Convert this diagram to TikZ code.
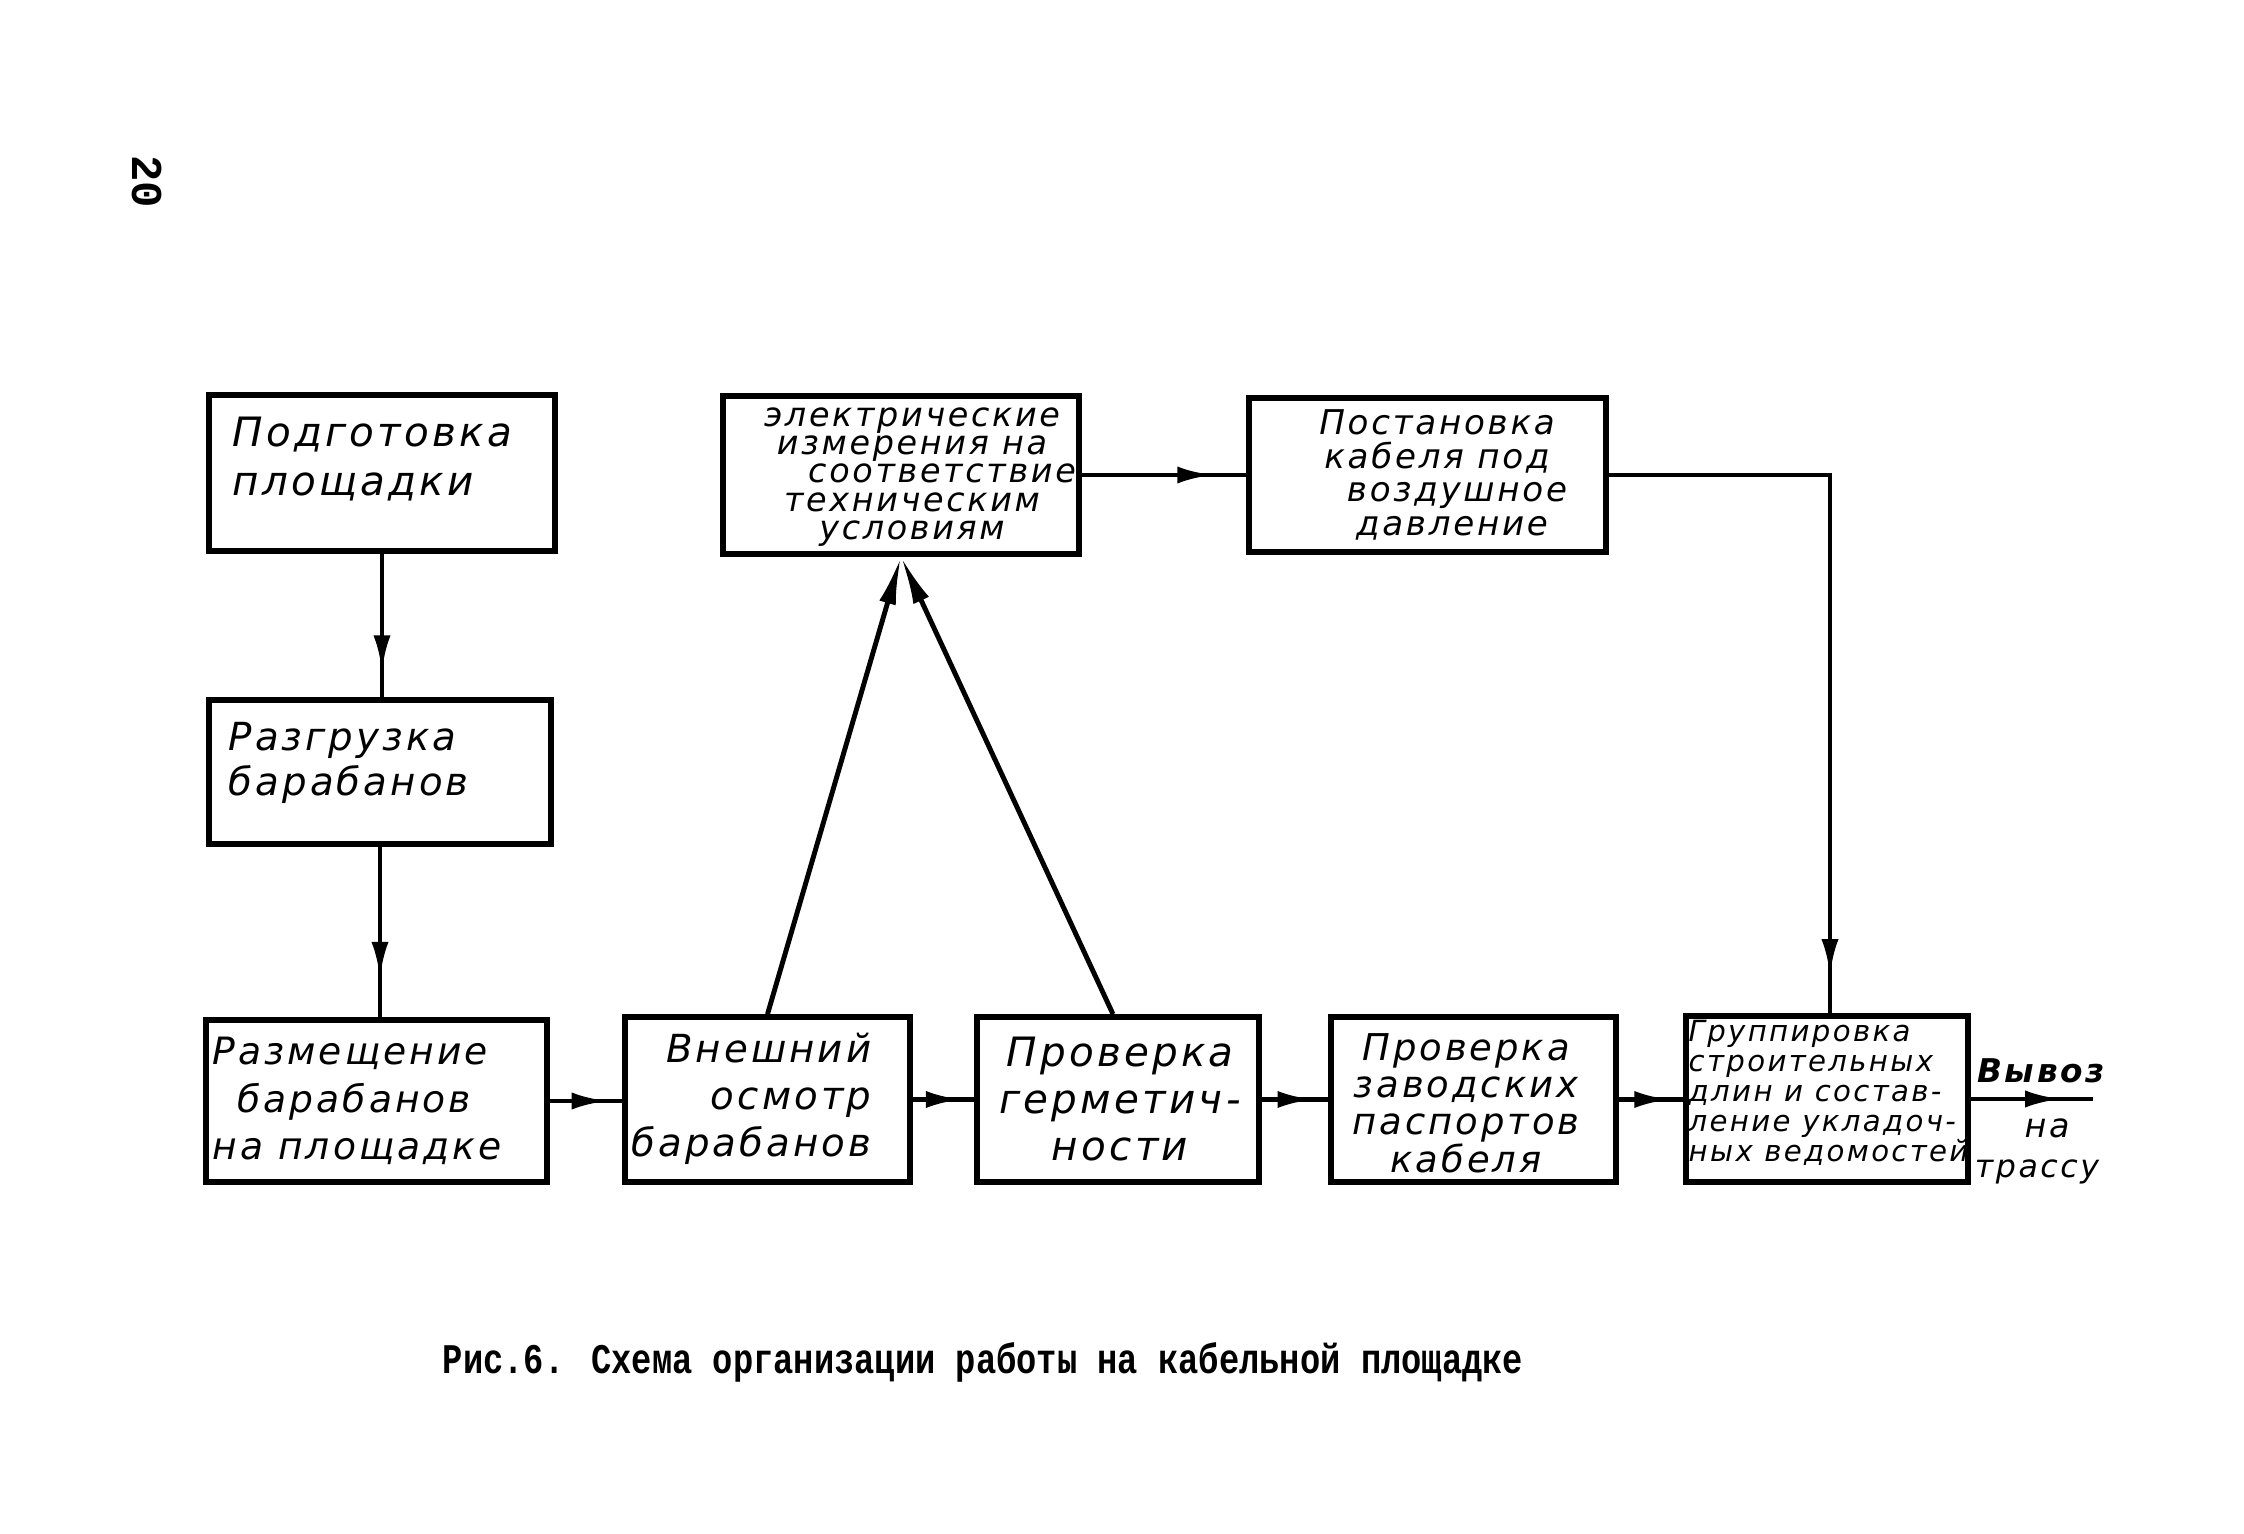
\documentclass[tikz,border=0pt]{standalone}
\usepackage{fontspec}
\setmainfont{DejaVu Sans}
\newfontfamily\hand{DejaVu Sans}[LetterSpace=8]
\newfontfamily\capfont{Liberation Mono}[FakeStretch=0.8]
\newfontfamily\pgnum{Liberation Mono}
\usetikzlibrary{arrows.meta,decorations.markings,fit}
\tikzset{
  box/.style={draw, line width=1.6pt, inner sep=0pt, fit={#1}},
  conn/.style={line width=1.4pt},
  midarrow/.style={postaction={decorate}, decoration={markings,
      mark=at position #1 with {\arrow{Latex[length=0.36cm,width=0.17cm]}}}},
  tiparrow/.style={-{Latex[length=0.48cm,width=0.17cm]}},
  htext/.style={inner sep=0pt},
}
\begin{document}
\begin{tikzpicture}[x=0.01cm,y=-0.01cm]
\fill[white] (0,0) rectangle (2244,1534);
\useasboundingbox (0,0) rectangle (2244,1534);

% boxes
\node[box={(209,395) (555,551)}] (b1) {};
\node[box={(209,700) (551,844)}] (b2) {};
\node[box={(206,1020) (547,1182)}] (b3) {};
\node[box={(625,1017) (910,1182)}] (b4) {};
\node[box={(977,1017) (1259,1182)}] (b5) {};
\node[box={(1331,1017) (1616,1182)}] (b6) {};
\node[box={(1686,1016) (1968,1182)}] (b7) {};
\node[box={(723,396) (1079,554)}] (b8) {};
\node[box={(1249,398) (1606,552)}] (b9) {};

% texts
\node[htext, anchor=west, align=left, font=\hand\itshape\fontsize{11.5}{14}\selectfont] (t1) at (232,459) {Подготовка\\ площадки};
\node[htext, anchor=west, align=left, font=\hand\itshape\fontsize{11}{13}\selectfont] (t2) at (228,763) {Разгрузка\\ барабанов};
\node[htext, anchor=west, align=left, font=\hand\itshape\fontsize{10.7}{13.5}\selectfont] (t3) at (212,1101) {Размещение\\ \hspace{0.25cm}барабанов\\ на площадке};
\node[htext, anchor=east, align=right, font=\hand\itshape\fontsize{11}{13.3}\selectfont] (t4) at (872,1099) {Внешний\\ осмотр\\ барабанов};
\node[htext, align=center, font=\hand\itshape\fontsize{11.5}{13.3}\selectfont] (t5) at (1120,1099) {Проверка\\ герметич-\\ ности};
\node[htext, align=center, font=\hand\itshape\fontsize{10.5}{10.6}\selectfont] (t6) at (1466,1103) {Проверка\\ заводских\\ паспортов\\ кабеля};
\node[htext, anchor=west, align=left, font=\hand\itshape\fontsize{8.3}{8.5}\selectfont] (t7) at (1688,1093) {Группировка\\ строительных\\ длин и состав-\\ ление укладоч-\\ ных ведомостей};
\node[htext, align=center, font=\hand\itshape\fontsize{9.5}{8}\selectfont] (t8) at (912,477) {электрические\\ измерения на\\ \hspace{0.6cm}соответствие\\ техническим\\ условиям};
\node[htext, align=center, font=\hand\itshape\fontsize{9.7}{9.5}\selectfont] (t9) at (1437,475) {Постановка\\ кабеля под\\ \hspace{0.4cm}воздушное\\ \hspace{0.3cm}давление};

% output label
\coordinate (out) at (2093,1099);
\node[htext, font=\hand\itshape\bfseries\fontsize{9.3}{12}\selectfont] (t10) at (2041,1071) {Вывоз};
\node[htext, font=\hand\itshape\fontsize{9.5}{12}\selectfont] (t11) at (2047,1128) {на};
\node[htext, font=\hand\itshape\fontsize{9}{12}\selectfont] (t12) at (2037,1172) {трассу};

% caption and page number
\node[font=\capfont\bfseries\fontsize{12}{14}\selectfont] (cap) at (983,1362) {Рис.6. Схема организации работы на кабельной площадке};
\node[font=\pgnum\bfseries\fontsize{12.5}{12}\selectfont, rotate=-90] (pg) at (147,182) {20};

% connectors
\draw[conn, midarrow=0.82] (b1.south) -- (b1.south |- b2.north);
\draw[conn, midarrow=0.77] (b2.south) -- (b2.south |- b3.north);
\draw[conn, midarrow=0.8] (b3.east) -- (b3.east -| b4.west);
\draw[conn, midarrow=0.8] (b4.east) -- (b4.east -| b5.west);
\draw[conn, midarrow=0.78] (b5.east) -- (b5.east -| b6.west);
\draw[conn, midarrow=0.8] (b6.east) -- (b6.east -| b7.west);
\draw[conn, midarrow=0.74] (b7.east) -- (out);
\draw[conn, midarrow=0.8] (b8.east) -- (b8.east -| b9.west);
\draw[conn, midarrow=0.95] (b9.east) -| ([xshift=0.03cm]b7.north);
\draw[conn, tiparrow] (b4.north) -- (b8.south);
\draw[conn, tiparrow] ([xshift=-0.05cm]b5.north) -- (b8.south);
\end{tikzpicture}
\end{document}
